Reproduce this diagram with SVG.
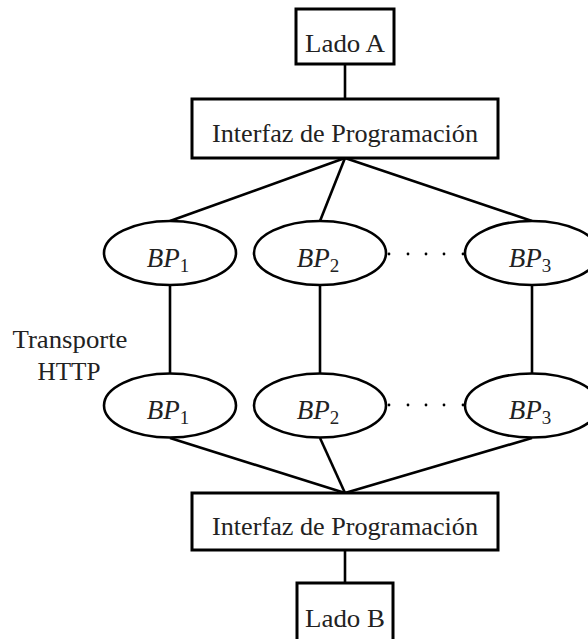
<svg xmlns="http://www.w3.org/2000/svg" width="588" height="639" viewBox="0 0 588 639">
<style>
.box{fill:#fff;stroke:#000;stroke-width:3}
.ell{fill:#fff;stroke:#000;stroke-width:2.6}
.ln{stroke:#000;stroke-width:2.6;fill:none}
text{font-family:"Liberation Serif","Times New Roman",serif;font-size:26px;fill:#222;text-anchor:middle}
.it{font-style:italic;font-size:27px}
.sub{font-style:normal;font-size:19px}
.dot{fill:#000}
</style>
<g id="connectors">
<line class="ln" x1="345" y1="64" x2="345" y2="99"/>
<line class="ln" x1="345" y1="158" x2="170" y2="221"/>
<line class="ln" x1="345" y1="158" x2="320" y2="221"/>
<line class="ln" x1="345" y1="158" x2="532" y2="221"/>
<line class="ln" x1="170" y1="285" x2="170" y2="373"/>
<line class="ln" x1="320" y1="285" x2="320" y2="373"/>
<line class="ln" x1="532" y1="285" x2="532" y2="373"/>
<line class="ln" x1="170" y1="438" x2="345" y2="493"/>
<line class="ln" x1="320" y1="438" x2="345" y2="493"/>
<line class="ln" x1="532" y1="438" x2="345" y2="493"/>
<line class="ln" x1="345" y1="550" x2="345" y2="583"/>
</g>
<g id="ladoA">
<rect class="box" x="296" y="9" width="98" height="55"/>
<text x="345" y="52" textLength="80" lengthAdjust="spacingAndGlyphs">Lado A</text>
</g>
<g id="interfazTop">
<rect class="box" x="192" y="99" width="306" height="59"/>
<text x="345" y="142" textLength="266" lengthAdjust="spacingAndGlyphs">Interfaz de Programación</text>
</g>
<g id="bp1top">
<ellipse class="ell" cx="170" cy="253" rx="66" ry="32"/>
<text x="168" y="267" class="it">BP<tspan class="sub" dy="5">1</tspan></text>
</g>
<g id="bp2top">
<ellipse class="ell" cx="320" cy="253" rx="66" ry="32"/>
<text x="318" y="267" class="it">BP<tspan class="sub" dy="5">2</tspan></text>
</g>
<g id="bp3top">
<ellipse class="ell" cx="532" cy="253" rx="67" ry="32"/>
<text x="530" y="267" class="it">BP<tspan class="sub" dy="5">3</tspan></text>
</g>
<g id="dotsTop">
<circle class="dot" cx="389" cy="254" r="1.4"/>
<circle class="dot" cx="408" cy="254" r="1.4"/>
<circle class="dot" cx="426" cy="254" r="1.4"/>
<circle class="dot" cx="444" cy="254" r="1.4"/>
<circle class="dot" cx="463" cy="254" r="1.4"/>
</g>
<g id="transporte">
<text x="70" y="348" textLength="115" lengthAdjust="spacingAndGlyphs">Transporte</text>
<text x="69" y="380" textLength="63" lengthAdjust="spacingAndGlyphs">HTTP</text>
</g>
<g id="bp1bot">
<ellipse class="ell" cx="170" cy="405.5" rx="66" ry="32"/>
<text x="168" y="419" class="it">BP<tspan class="sub" dy="5">1</tspan></text>
</g>
<g id="bp2bot">
<ellipse class="ell" cx="320" cy="405.5" rx="66" ry="32"/>
<text x="318" y="419" class="it">BP<tspan class="sub" dy="5">2</tspan></text>
</g>
<g id="bp3bot">
<ellipse class="ell" cx="532" cy="405.5" rx="67" ry="32"/>
<text x="530" y="419" class="it">BP<tspan class="sub" dy="5">3</tspan></text>
</g>
<g id="dotsBot">
<circle class="dot" cx="389" cy="405" r="1.4"/>
<circle class="dot" cx="408" cy="405" r="1.4"/>
<circle class="dot" cx="426" cy="405" r="1.4"/>
<circle class="dot" cx="444" cy="405" r="1.4"/>
<circle class="dot" cx="463" cy="405" r="1.4"/>
</g>
<g id="interfazBot">
<rect class="box" x="192" y="493" width="306" height="57"/>
<text x="345" y="535" textLength="266" lengthAdjust="spacingAndGlyphs">Interfaz de Programación</text>
</g>
<g id="ladoB">
<rect class="box" x="297" y="583" width="96" height="70"/>
<text x="345" y="627" textLength="80" lengthAdjust="spacingAndGlyphs">Lado B</text>
</g>
</svg>
